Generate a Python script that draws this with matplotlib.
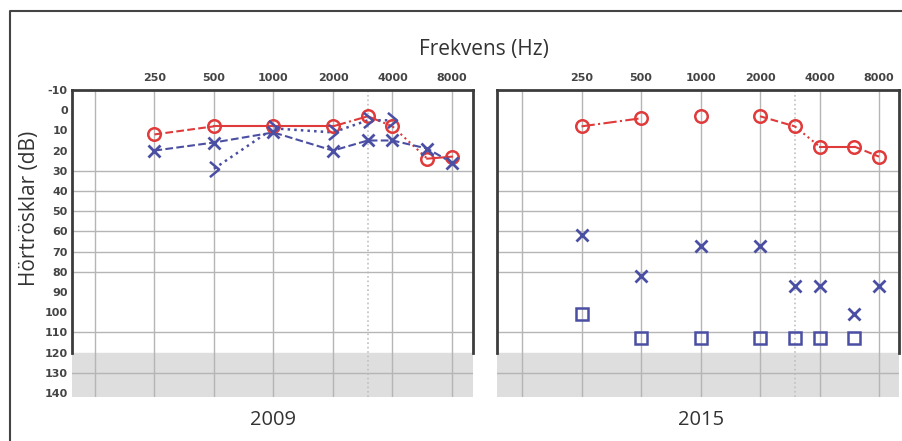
import matplotlib.pyplot as plt
from matplotlib.lines import Line2D
from matplotlib.path import Path

# frekvenser (Hz)
freqs = [250, 500, 1000, 2000, 3000, 4000, 6000, 8000]
tick_freqs = [250, 500, 1000, 2000, 4000, 8000]
grid_freqs = [125, 250, 500, 1000, 2000, 4000, 8000]
db_ticks = list(range(-10, 150, 10))
db_grid = [30, 40, 50, 60, 70, 80, 110, 130]

# 2009
red_2009 = [12, 8, 8, 8, 3, 8, 24, 23]
blue_x_2009 = [20, 16, 11, 20, 15, 15, 19, 26]
bc_freqs_2009 = [500, 1000, 2000, 3000, 4000]
bc_2009 = [29, 9, 11, 5, 5]

# 2015
red_2015 = [8, 4, 3, 3, 8, 18, 18, 23]
blue_x_2015 = [62, 82, 67, 67, 87, 87, 101, 87]
sq_freqs_2015 = [250, 500, 1000, 2000, 3000, 4000, 6000]
sq_2015 = [101, 113, 113, 113, 113, 113, 113]

# linjestil per segment (None = ingen linje)
red_styles_2009 = ['--', '-', '-', '-.', '-.', ':', '-']
red_styles_2015 = ['-.', None, None, '--', ':', '-', '--']

RED = '#e03a3a'
BLUE = '#4a4fa3'
TXT = '#333333'

# oppen ">" (benledning)
chevron = Path([(-0.6, 1), (0.6, 0), (-0.6, -1)],
               [Path.MOVETO, Path.LINETO, Path.LINETO])


def segments(ax, x, y, styles, color):
    for i in range(len(x) - 1):
        if styles[i] is None:
            continue
        ax.plot(x[i:i + 2], y[i:i + 2], color=color, linestyle=styles[i],
                linewidth=1.5, zorder=3)


def panel(ax, xlim, show_y):
    ax.set_xscale('log', base=2)
    ax.set_xlim(*xlim)
    ax.set_ylim(142, -10)
    ax.axhspan(120, 142, color='#dedede', zorder=0)
    for f in grid_freqs:
        ax.axvline(f, color='#b5b5b5', linewidth=1, zorder=1)
    ax.axvline(3000, color='#c0c0c0', linewidth=1.2, linestyle=':', zorder=1)
    for d in db_grid:
        ax.axhline(d, color='#b5b5b5', linewidth=1, zorder=1)
    ax.xaxis.tick_top()
    ax.set_xticks(tick_freqs)
    ax.set_xticklabels([str(f) for f in tick_freqs], fontweight='bold')
    ax.minorticks_off()
    ax.tick_params(axis='x', length=0, pad=5, labelsize=8, labelcolor='#444444')
    ax.set_yticks(db_ticks)
    if show_y:
        ax.set_yticklabels([str(d) for d in db_ticks], fontweight='bold')
    else:
        ax.set_yticklabels([])
    ax.tick_params(axis='y', length=0, pad=3, labelsize=8, labelcolor='#444444')
    for s in ['top', 'left', 'right']:
        ax.spines[s].set_color('#3c3c3c')
        ax.spines[s].set_linewidth(2)
    ax.spines['left'].set_bounds(-10, 120)
    ax.spines['right'].set_bounds(-10, 120)
    ax.spines['bottom'].set_visible(False)


fig = plt.figure(figsize=(9.02, 4.41), dpi=100)
ax1 = fig.add_axes([72 / 902, 1 - 397 / 441, 401 / 902, 307 / 441])
ax2 = fig.add_axes([497 / 902, 1 - 397 / 441, 402 / 902, 307 / 441])

panel(ax1, (95.7, 10220), True)
panel(ax2, (93.4, 10095), False)

# 2009
segments(ax1, freqs, red_2009, red_styles_2009, RED)
ax1.plot(freqs, red_2009, 'o', mfc='none', mec=RED, ms=9, mew=1.8, zorder=4)
ax1.plot(freqs, blue_x_2009, color=BLUE, linestyle='--', linewidth=1.5, zorder=3)
ax1.plot(freqs, blue_x_2009, 'x', color=BLUE, ms=9, mew=2, zorder=4)
ax1.plot(bc_freqs_2009, bc_2009, color=BLUE, linestyle=':', linewidth=1.8, zorder=3)
ax1.plot(bc_freqs_2009, bc_2009, linestyle='none', marker=chevron, fillstyle='none',
         color=BLUE, ms=11, mew=1.8, zorder=4)

# 2015
segments(ax2, freqs, red_2015, red_styles_2015, RED)
ax2.plot(freqs, red_2015, 'o', mfc='none', mec=RED, ms=9, mew=1.8, zorder=4)
ax2.plot(freqs, blue_x_2015, 'x', color=BLUE, ms=9, mew=2, zorder=4)
ax2.plot(sq_freqs_2015, sq_2015, 's', mfc='none', mec=BLUE, ms=8, mew=1.8, zorder=4)

fig.text(484 / 902, 1 - 49 / 441, 'Frekvens (Hz)', ha='center', va='center', fontsize=15,
         family='Open Sans', color=TXT)
fig.text(0.033, 1 - 208 / 441, 'Hörtrösklar (dB)', ha='center', va='center', rotation=90,
         fontsize=15, family='Open Sans', color=TXT)
fig.text(273 / 902, 1 - 420 / 441, '2009', ha='center', va='center', fontsize=14.5,
         family='Open Sans', color=TXT)
fig.text(701 / 902, 1 - 420 / 441, '2015', ha='center', va='center', fontsize=14.5,
         family='Open Sans', color=TXT)

# ram
fig.add_artist(Line2D([10 / 902, 10 / 902, 1], [0, 1 - 11 / 441, 1 - 11 / 441],
                      color='#444444', linewidth=1.5))

plt.savefig('out.png', dpi=100)
